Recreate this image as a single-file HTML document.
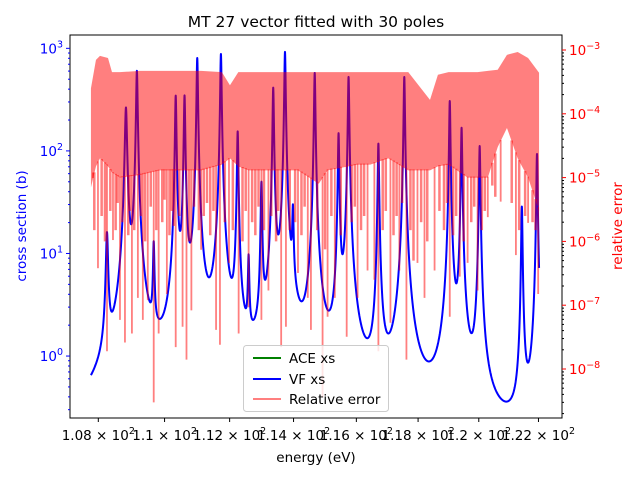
<!DOCTYPE html>
<html><head><meta charset="utf-8"><style>
html,body{margin:0;padding:0;background:#fff;}
svg{display:block;font-family:"DejaVu Sans","Liberation Sans",sans-serif;}
</style></head><body>
<svg id="chart" width="640" height="480" viewBox="0 0 640 480" xmlns="http://www.w3.org/2000/svg">
<rect x="0" y="0" width="640" height="480" fill="#fff"/>
<defs><clipPath id="pc"><rect x="70" y="35" width="492" height="383"/></clipPath></defs>
<text x="316" y="27" font-size="15.5" text-anchor="middle" fill="#000">MT 27 vector fitted with 30 poles</text>
<text transform="translate(26,226) rotate(-90)" font-size="13.5" text-anchor="middle" fill="#0000ff">cross section (b)</text>
<text transform="translate(622,226) rotate(-90)" font-size="13.5" text-anchor="middle" fill="#ff0000">relative error</text>
<text x="316" y="462" font-size="13.5" text-anchor="middle" fill="#000">energy (eV)</text>
<g id="xsLayer" clip-path="url(#pc)"></g>
<g id="errLayer" clip-path="url(#pc)"></g>
<g id="axes"></g>
<g id="legend">
<rect x="243.5" y="345.5" width="145" height="66" rx="3" fill="#fff" fill-opacity="0.8" stroke="#ccc"/>
<g><line x1="253" y1="358" x2="281" y2="358" stroke="#008000" stroke-width="2"/><text x="289" y="363" font-size="13.5">ACE xs</text></g>
<g><line x1="253" y1="379" x2="281" y2="379" stroke="#0000ff" stroke-width="2"/><text x="289" y="384" font-size="13.5">VF xs</text></g>
<g><line x1="253" y1="399" x2="281" y2="399" stroke="#ff0000" stroke-opacity="0.5" stroke-width="2"/><text x="289" y="404" font-size="13.5">Relative error</text></g>
</g>
</svg>
<script>
// ---- data ----
const resE = [108.26,108.83,109.16,109.67,110.34,110.61,111.00,111.73,112.25,112.59,112.99,113.36,113.73,113.98,114.67,115.43,115.75,116.71,117.55,119.04,119.43,120.03,121.44,121.95];
const resPeak = [14.8,262,601,10.8,343,343,803,880,153,7.7,47.5,410,920,23,574,146,525,117,525,306,167,111,28.3,93];
const resWidth = [0.03,0.03,0.022,0.02,0.02,0.02,0.02,0.02,0.02,0.02,0.02,0.02,0.02,0.02,0.02,0.02,0.02,0.02,0.02,0.02,0.02,0.02,0.02,0.02];
const xsBackground = [0.1];
const energyRange = [107.78,122.02];
const bandE = [107.78,107.93,108.05,108.29,108.41,108.65,109.25,109.86,111.12,111.76,112.01,112.27,112.59,114.14,114.80,115.08,116.04,116.45,117.03,117.68,118.39,118.65,119.00,119.63,119.96,120.30,120.63,120.94,121.30,121.65,122.02];
const bandTop = [2.5e-4,7e-4,8.1e-4,7.5e-4,4.5e-4,4.5e-4,4.7e-4,4.7e-4,4.7e-4,4.5e-4,2.8e-4,4.5e-4,4.5e-4,4.5e-4,4.5e-4,4.5e-4,4.5e-4,4.5e-4,4.5e-4,4.5e-4,1.65e-4,4.1e-4,4.5e-4,4.5e-4,4.5e-4,4.7e-4,4.9e-4,8.4e-4,9.3e-4,7.5e-4,4.4e-4];
const bandBottom = [7e-6,1.5e-5,2e-5,1.5e-5,1.2e-5,1e-5,1.1e-5,1.3e-5,1.3e-5,1.6e-5,2e-5,1.5e-5,1.3e-5,1.3e-5,8e-6,1.3e-5,1.6e-5,1.6e-5,2e-5,1.3e-5,1.3e-5,1.5e-5,1.6e-5,1e-5,1e-5,1e-5,3e-5,6e-5,2e-5,1e-5,3e-6];
const spikeE = [107.84,107.99,108.26,108.44,108.65,108.80,109.01,109.19,109.34,109.49,109.67,109.82,110.07,110.34,110.55,110.67,110.82,111.12,111.58,111.70,111.98,112.28,112.59,112.99,113.21,113.61,113.76,114.14,114.45,114.55,114.92,115.08,115.31,115.69,116.04,116.36,116.58,116.71,117.10,117.39,117.62,117.98,118.21,118.54,119.04,119.37,119.63,119.96,120.30,120.73,121.24,121.65,121.99];
const spikeV = [1.2e-5,3.8e-7,1.9e-8,1.05e-6,5.9e-8,2.6e-8,3.6e-8,1.3e-7,5.9e-8,1.2e-7,3e-9,3.6e-8,1.5e-7,2.2e-8,4.6e-8,1.4e-8,8.3e-8,7.4e-7,4.1e-8,2.4e-8,4.6e-7,3.6e-8,9.3e-8,5.9e-8,1.7e-7,2.2e-8,4.6e-8,3.2e-7,1.3e-7,4.1e-8,3.6e-9,6.6e-8,1.3e-7,3.2e-8,1.3e-7,3.5e-7,2.5e-7,1.9e-8,5.3e-8,3.5e-7,1.4e-8,4.6e-7,1.3e-7,3.5e-7,6.6e-8,2.8e-7,4.6e-7,1.7e-7,2.4e-6,4.2e-6,6.1e-7,1.95e-6,1.5e-7];
const midSpikeE = [107.88,108.10,108.20,108.36,108.52,108.58,108.72,108.90,108.95,109.08,109.28,109.41,109.58,109.75,109.93,110.00,110.15,110.22,110.28,110.45,110.75,110.90,111.05,111.20,111.30,111.40,111.50,111.85,112.10,112.40,112.50,112.70,112.80,112.90,113.07,113.30,113.45,113.52,113.88,114.05,114.25,114.35,114.75,115.00,115.20,115.50,115.85,115.95,116.15,116.25,116.85,116.95,117.20,117.30,117.48,117.75,117.85,118.10,118.30,118.70,118.85,118.95,119.15,119.25,119.50,119.75,119.85,120.10,120.20,120.45,120.55,121.10,121.35,121.55,121.80,121.90];
const midSpikeV = [3e-6,5e-6,2e-6,6e-6,3e-6,8e-6,4e-6,2.5e-6,6e-6,3e-6,5e-6,2e-6,7e-6,3e-6,4e-6,9e-6,2.5e-6,6e-6,3.5e-6,5e-6,2e-6,7e-6,3e-6,5e-6,8e-6,2.5e-6,6e-6,4e-6,3e-6,2e-6,6e-6,4e-6,2.5e-6,7e-6,3e-6,5e-6,2e-6,6e-6,3e-6,4e-6,2.5e-6,7e-6,3e-6,1.5e-6,5e-6,2.5e-6,4e-6,7e-6,3e-6,5e-6,3e-6,6e-6,2.5e-6,5e-6,8e-6,3e-6,1e-6,4e-6,2e-6,6e-6,3e-6,8e-6,2.5e-6,5e-6,2e-6,4e-6,7e-6,3e-6,6e-6,1.5e-5,1e-5,8e-6,3e-6,5e-6,4e-6,3e-6];
const xTicks = [108,110,112,114,116,118,120,122];
const xTickLabels = ["1.08","1.1","1.12","1.14","1.16","1.18","1.2","1.22"];
const yTicks = [0,1,2,3];
const y2Ticks = [-3,-4,-5,-6,-7,-8];

// ---- axes ----
const L=70,R=562,T=35,B=418;
const xLog=[2.03002,2.08919], yLog=[-0.604,3.13], y2Log=[-8.768,-2.765];
const X = e => L+(Math.log10(e)-xLog[0])/(xLog[1]-xLog[0])*(R-L);
const Y = v => B-(Math.log10(v)-yLog[0])/(yLog[1]-yLog[0])*(B-T);
const Y2 = v => B-(Math.log10(v)-y2Log[0])/(y2Log[1]-y2Log[0])*(B-T);
const NS="http://www.w3.org/2000/svg";
function mk(tag,attrs,parent){const el=document.createElementNS(NS,tag);for(const k in attrs)el.setAttribute(k,attrs[k]);parent.appendChild(el);return el;}

function xsAt(e){let s=xsBackground[0];for(let i=0;i<resE.length;i++){const g=resWidth[i];const d=e-resE[i];s+=resPeak[i]*g*g/(d*d+g*g);}return s;}
let es=[];const n=5000;for(let i=0;i<=n;i++)es.push(energyRange[0]+(energyRange[1]-energyRange[0])*i/n);
resE.forEach(e=>es.push(e));es.sort((a,b)=>a-b);
const xsLayer=document.getElementById('xsLayer');
const vf=mk('polyline',{points:es.map(e=>X(e).toFixed(2)+','+Y(xsAt(e)).toFixed(2)).join(' '),fill:'none',stroke:'#0000ff','stroke-width':2,'stroke-linejoin':'round'},xsLayer);



const errLayer=document.getElementById('errLayer');
let pts=[];for(let i=0;i<bandE.length;i++)pts.push(X(bandE[i]).toFixed(2)+','+Y2(bandTop[i]).toFixed(2));
for(let i=bandE.length-1;i>=0;i--)pts.push(X(bandE[i]).toFixed(2)+','+Y2(bandBottom[i]).toFixed(2));
const band=mk('polygon',{points:pts.join(' '),fill:'#ff0000','fill-opacity':0.5,stroke:'none'},errLayer);


function interp(e,xs,ys){for(let i=0;i<xs.length-1;i++){if(e>=xs[i]&&e<=xs[i+1]){const t=(e-xs[i])/(xs[i+1]-xs[i]);return Math.pow(10,Math.log10(ys[i])*(1-t)+Math.log10(ys[i+1])*t);}}return ys[ys.length-1];}
for(let i=0;i<spikeE.length;i++){
  const x=X(spikeE[i]);
  const sp=mk('line',{x1:x,x2:x,y1:Y2(interp(spikeE[i],bandE,bandBottom))-1,y2:Y2(spikeV[i]),stroke:'#ff0000','stroke-opacity':0.5,'stroke-width':1.8},errLayer);
  
  
}
for(let i=0;i<midSpikeE.length;i++){
  const x=X(midSpikeE[i]);
  const sp=mk('line',{x1:x,x2:x,y1:Y2(interp(midSpikeE[i],bandE,bandBottom))-1,y2:Y2(midSpikeV[i]/2),stroke:'#ff0000','stroke-opacity':0.5,'stroke-width':2.5},errLayer);
  
  
}

const ax=document.getElementById('axes');
const frame=mk('rect',{x:L,y:T,width:R-L,height:B-T,fill:'none',stroke:'#000','stroke-width':1},ax);


xTicks.forEach((t,i)=>{
  const x=X(t);
  mk('line',{x1:x,x2:x,y1:B,y2:B+4,stroke:'#000'},ax);
  const tx=mk('text',{x:x,y:B+22,'font-size':13.5,'text-anchor':'middle',fill:'#000'},ax);
  
  
  tx.innerHTML=xTickLabels[i]+' × 10<tspan font-size="9.5" dy="-6">2</tspan>';
});
yTicks.forEach(p=>{
  const y=Y(Math.pow(10,p));
  mk('line',{x1:L-4,x2:L,y1:y,y2:y,stroke:'#0000ff'},ax);
  const tx=mk('text',{x:L-7,y:y+5,'font-size':13.5,'text-anchor':'end',fill:'#0000ff'},ax);
  
  
  tx.innerHTML='10<tspan font-size="9.5" dy="-6">'+p+'</tspan>';
});
for(let p=-1;p<=3;p++)for(let m=2;m<=9;m++){const v=m*Math.pow(10,p);const y=Y(v);if(y>T&&y<B)mk('line',{x1:L-2,x2:L,y1:y,y2:y,stroke:'#0000ff'},ax);}
y2Ticks.forEach(p=>{
  const y=Y2(Math.pow(10,p));
  mk('line',{x1:R,x2:R+4,y1:y,y2:y,stroke:'#ff0000'},ax);
  const tx=mk('text',{x:R+7,y:y+5,'font-size':13.5,'text-anchor':'start',fill:'#ff0000'},ax);
  
  
  tx.innerHTML='10<tspan font-size="9.5" dy="-6">−'+(-p)+'</tspan>';
});
for(let p=-9;p<=-3;p++)for(let m=2;m<=9;m++){const v=m*Math.pow(10,p);const y=Y2(v);if(y>T&&y<B)mk('line',{x1:R,x2:R+2,y1:y,y2:y,stroke:'#000'},ax);}
</script>
</body></html>
